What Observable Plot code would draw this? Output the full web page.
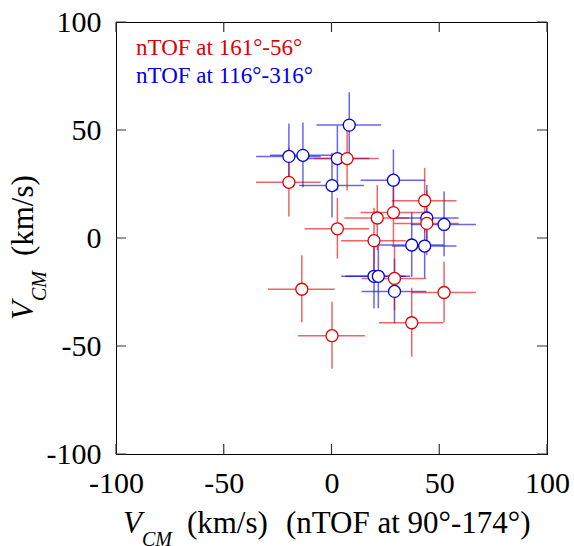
<!DOCTYPE html>
<html><head><meta charset="utf-8">
<script src="https://cdn.jsdelivr.net/npm/d3@7"></script>
<script src="https://cdn.jsdelivr.net/npm/@observablehq/plot@0.6"></script>
<style>
body{margin:0;background:#fff} svg{display:block}
</style>
</head><body><div id="chart"></div>
<script>
// Series 1: nTOF at 161°-56° (red)
const redLabel = "nTOF at 161°-56°";
const redX  = [-20, 7, 2.5, 43, 28.5, 21, 44, 19.5, 29, 52, -14, 0, 37];
const redY  = [26, 37, 4.5, 17.5, 12, 9.5, 7, -1, -18.5, -25, -23.5, -45, -39];
const redEx = [15, 15, 15, 15, 15, 15, 15, 15, 15, 15, 15.5, 15.5, 15];
const redEy = [16, 15, 14, 15, 15, 15, 15, 15, 15, 14, 15.5, 15.5, 16];
// Series 2: nTOF at 116°-316° (blue)
const blueLabel = "nTOF at 116°-316°";
const blueX  = [8, -20, -13.5, 2.5, 0, 28.5, 44, 52, 37, 43, 19.5, 21.5, 29];
const blueY  = [52.5, 38, 38.5, 37, 24.5, 27, 9.5, 6.5, -3, -3.5, -17.5, -17.5, -24.5];
const blueEx = [15, 15, 15, 15, 15, 15, 15, 15, 15, 15, 15, 15, 15];
const blueEy = [15, 15, 15, 15, 15, 14, 15, 15, 15, 15, 15, 15, 15];

const ticks = [-100, -50, 0, 50, 100];
const xLabelMain = "(km/s)";
const xLabelExtra = "(nTOF at 90°-174°)";

const RED = "#e00000", BLUE = "#0000e0";
const rows = (X, Y, EX, EY) => X.map((x, i) => ({x, y: Y[i], ex: EX[i], ey: EY[i]}));
const red = rows(redX, redY, redEx, redEy);
const blue = rows(blueX, blueY, blueEx, blueEy);

function bars(data, color) {
  return [
    Plot.ruleY(data, {y: "y", x1: d => d.x - d.ex, x2: d => d.x + d.ex, stroke: color, strokeWidth: 1.5, strokeOpacity: 0.6}),
    Plot.ruleX(data, {x: "x", y1: d => d.y - d.ey, y2: d => d.y + d.ey, stroke: color, strokeWidth: 1.5, strokeOpacity: 0.6})
  ];
}
function dots(data, color) {
  return Plot.dot(data, {x: "x", y: "y", r: 6, fill: "white", stroke: color, strokeWidth: 1.3});
}
const fmt = d => String(d);
const ff = "Liberation Serif";

const chart = Plot.plot({
  width: 574, height: 546,
  marginLeft: 116, marginRight: 27, marginTop: 22, marginBottom: 92,
  style: {fontFamily: ff, background: "white"},
  x: {domain: [-100, 100]},
  y: {domain: [-100, 100]},
  marks: [
    ...bars(blue, BLUE),
    ...bars(red, RED),
    dots(blue, BLUE),
    dots(red, RED),
    Plot.frame({stroke: "#000"}),
    Plot.axisX(ticks, {anchor: "bottom", tickSize: 0, tickPadding: 17, fontSize: 30, tickFormat: fmt, label: null, fill: "#000"}),
    Plot.axisY(ticks, {anchor: "left", tickSize: 0, tickPadding: 15, fontSize: 30, tickFormat: fmt, label: null, fill: "#000"})
  ]
});
document.getElementById("chart").appendChild(chart);

const svg = d3.select(chart);
// inward ticks on all four sides, positioned with Plot's own scales
const sx = chart.scale("x"), sy = chart.scale("y");
const xs = d3.scaleLinear().domain(sx.domain).range(sx.range);
const ys = d3.scaleLinear().domain(sy.domain).range(sy.range);
const TL = 10;
const tg = svg.append("g").attr("stroke", "#333").attr("stroke-width", 1.2).attr("fill", "none");
const yb = ys(-100), yt = ys(100), xl = xs(-100), xr = xs(100);
ticks.forEach(v => {
  const px = xs(v), py = ys(v);
  tg.append("path").attr("d", `M${px},${yb}V${yb - TL}M${px},${yt}V${yt + TL}M${xl},${py}H${xl + TL}M${xr},${py}H${xr - TL}`);
});

// legend
svg.append("text").attr("x", 136).attr("y", 55).attr("text-anchor", "start").attr("font-family", ff).attr("font-size", 23).attr("fill", RED).text(redLabel);
svg.append("text").attr("x", 136).attr("y", 83).attr("text-anchor", "start").attr("font-family", ff).attr("font-size", 23).attr("fill", BLUE).text(blueLabel);

function axisLabel(g, extra) {
  const t = g.append("text").attr("text-anchor", "start").attr("font-family", ff).attr("font-size", 31).attr("fill", "#000");
  t.append("tspan").attr("font-style", "italic").text("V");
  t.append("tspan").attr("font-style", "italic").attr("font-size", 20).attr("dy", 13).text("CM");
  t.append("tspan").attr("dy", -13).attr("dx", 15).text(xLabelMain);
  if (extra) t.append("tspan").attr("dx", 18).text(extra);
}
axisLabel(svg.append("g").attr("transform", "translate(123,533)"), xLabelExtra);
axisLabel(svg.append("g").attr("transform", "translate(33,320) rotate(-90)"), null);
</script></body></html>
